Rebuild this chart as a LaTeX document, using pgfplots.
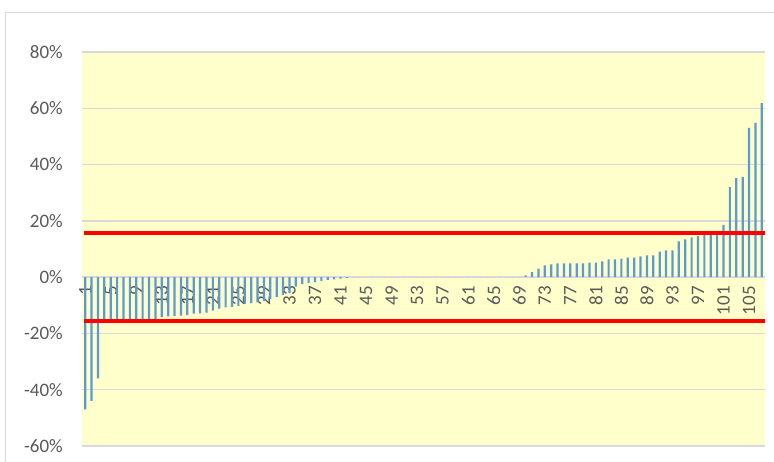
\documentclass[border=0pt]{standalone}
\usepackage{pgfplots}
\pgfplotsset{compat=1.18}
\usepackage{fontspec}
\setmainfont{Carlito}
\definecolor{barblue}{HTML}{5B9BD5}
\definecolor{gridgray}{HTML}{D9D9D9}
\definecolor{txtgray}{HTML}{595959}
\definecolor{plotbg}{HTML}{FFFFCC}
\begin{document}
\begin{tikzpicture}[x=1pt,y=1pt]
\useasboundingbox (0,0) rectangle (774,461);
\draw[gridgray, line width=1.2pt] (5.5,448.5) rectangle (790,-20);
\begin{axis}[
  at={(82pt,15pt)}, anchor=south west,
  scale only axis, width=683pt, height=394pt,
  xmin=0.5, xmax=107.5, ymin=-60, ymax=80,
  axis x line=middle, axis y line=left,
  axis line style={draw=none},
  hide obscured x ticks=false, hide obscured y ticks=false,
  major tick length=0pt,
  ytick={-60,-40,-20,0,20,40,60,80},
  yticklabels={-60\%,-40\%,-20\%,0\%,20\%,40\%,60\%,80\%},
  xtick={1,5,...,105},
  xticklabels={1,5,9,13,17,21,25,29,33,37,41,45,49,53,57,61,65,69,73,77,81,85,89,93,97,101,105},
  ymajorgrids, grid style={gridgray, line width=1.5pt},
  axis background/.style={fill=plotbg},
  tick label style={font=\fontsize{19}{21}\selectfont, text=txtgray},
  xticklabel style={rotate=90, anchor=east, inner sep=0pt},
  xticklabel shift=9pt,
  yticklabel style={anchor=east, inner sep=0pt},
  yticklabel shift=19pt,
]
\addplot[ybar, bar width=2.2pt, fill=barblue, draw=none] coordinates {
(1,-47) (2,-44) (3,-36) (4,-15.4) (5,-15.3) (6,-15.3) (7,-15.2) (8,-15.2) (9,-15.1) (10,-15.1)
(11,-15.0) (12,-14.9) (13,-14.2) (14,-13.9) (15,-13.8) (16,-13.7) (17,-13.5) (18,-13.0) (19,-12.9) (20,-12.6)
(21,-11.9) (22,-11.2) (23,-10.7) (24,-10.6) (25,-10.2) (26,-9.5) (27,-9.2) (28,-9.0) (29,-8.5) (30,-7.8)
(31,-7.0) (32,-6.3) (33,-5.7) (34,-3.4) (35,-2.4) (36,-2.1) (37,-1.8) (38,-1.3) (39,-1.0) (40,-0.8)
(41,-0.5) (42,-0.3) (43,0) (44,0) (45,0) (46,0) (47,0) (48,0) (49,0) (50,0)
(51,0) (52,0) (53,0) (54,0) (55,0) (56,0) (57,0) (58,0) (59,0) (60,0)
(61,0) (62,0) (63,0) (64,0) (65,0) (66,0) (67,0) (68,0) (69,0) (70,0.6)
(71,1.8) (72,3.0) (73,4.2) (74,4.5) (75,4.9) (76,4.9) (77,4.9) (78,4.9) (79,4.9) (80,5.2)
(81,5.2) (82,5.6) (83,6.3) (84,6.3) (85,6.6) (86,6.9) (87,6.9) (88,7.4) (89,7.7) (90,7.7)
(91,9.1) (92,9.5) (93,9.5) (94,12.7) (95,13.4) (96,14.1) (97,14.6) (98,15.0) (99,15.3) (100,16.4)
(101,18.6) (102,32.0) (103,35.2) (104,35.6) (105,53.0) (106,54.8) (107,61.8)
};
\addplot[red, line width=4.2pt, sharp plot, mark=none] coordinates {(0.8,15.6) (107.5,15.6)};
\addplot[red, line width=4.2pt, sharp plot, mark=none] coordinates {(0.8,-15.6) (107.5,-15.6)};
\end{axis}
\end{tikzpicture}
\end{document}
